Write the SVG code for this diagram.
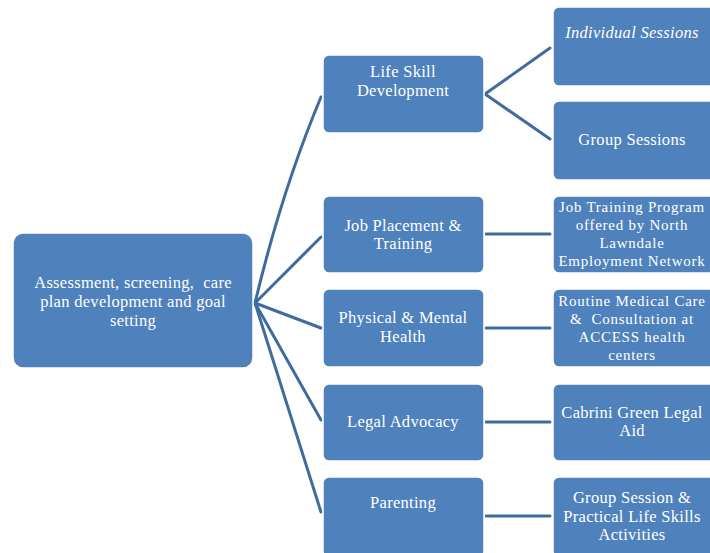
<svg xmlns="http://www.w3.org/2000/svg" width="710" height="553" viewBox="0 0 710 553">
<style>
.box{fill:#4F81BD;stroke:#FFFFFF;stroke-width:1.5}
.t{font-family:"Liberation Serif",serif;font-size:16.5px;letter-spacing:0.3px;fill:#FFFFFF;text-anchor:middle;white-space:pre}
.s{font-size:15px;letter-spacing:0.75px}
.c{fill:none;stroke:#3E6C9E;stroke-width:3;stroke-linecap:round}
</style>
<rect width="710" height="553" fill="#FFFFFF"/>
<g id="connectors">
<path class="c" d="M255,303 Q282,190 321,97"/>
<line class="c" x1="255" y1="303" x2="321" y2="237"/>
<line class="c" x1="255" y1="303" x2="321" y2="328"/>
<line class="c" x1="255" y1="303" x2="321" y2="420"/>
<line class="c" x1="255" y1="303" x2="321" y2="512"/>
<line class="c" x1="485" y1="94" x2="550" y2="48"/>
<line class="c" x1="485" y1="94" x2="550" y2="139"/>
<line class="c" x1="486" y1="234" x2="550" y2="234"/>
<line class="c" x1="486" y1="328" x2="550" y2="328"/>
<line class="c" x1="486" y1="422" x2="550" y2="422"/>
<line class="c" x1="486" y1="516" x2="550" y2="516"/>
</g>
<g id="root">
<rect class="box" x="13" y="233" width="240" height="135" rx="10"/>
<text class="t"><tspan x="133" y="288">Assessment, screening,  care</tspan><tspan x="133" y="307">plan development and goal</tspan><tspan x="133" y="326">setting</tspan></text>
</g>
<g id="life-skill">
<rect class="box" x="323" y="55" width="161" height="78" rx="6"/>
<text class="t"><tspan x="403" y="77">Life Skill</tspan><tspan x="403" y="96">Development</tspan></text>
</g>
<g id="job-placement">
<rect class="box" x="323" y="196" width="161" height="77" rx="6"/>
<text class="t"><tspan x="403" y="231">Job Placement &amp;</tspan><tspan x="403" y="249">Training</tspan></text>
</g>
<g id="physical">
<rect class="box" x="323" y="289" width="161" height="78" rx="6"/>
<text class="t"><tspan x="403" y="323">Physical &amp; Mental</tspan><tspan x="403" y="342">Health</tspan></text>
</g>
<g id="legal">
<rect class="box" x="323" y="384" width="161" height="77" rx="6"/>
<text class="t"><tspan x="403" y="427">Legal Advocacy</tspan></text>
</g>
<g id="parenting">
<rect class="box" x="323" y="477" width="161" height="80" rx="6"/>
<text class="t"><tspan x="403" y="508">Parenting</tspan></text>
</g>
<g id="individual">
<rect class="box" x="553" y="7" width="162" height="79" rx="6"/>
<text class="t" font-style="italic"><tspan x="632" y="38">Individual Sessions</tspan></text>
</g>
<g id="group-sessions">
<rect class="box" x="553" y="101" width="162" height="79" rx="6"/>
<text class="t"><tspan x="632" y="145">Group Sessions</tspan></text>
</g>
<g id="job-training">
<rect class="box" x="553" y="196" width="162" height="77" rx="6"/>
<text class="t s"><tspan x="632" y="212">Job Training Program</tspan><tspan x="632" y="230">offered by North</tspan><tspan x="632" y="248">Lawndale</tspan><tspan x="632" y="266">Employment Network</tspan></text>
</g>
<g id="routine">
<rect class="box" x="553" y="289" width="162" height="78" rx="6"/>
<text class="t s"><tspan x="632" y="306">Routine Medical Care</tspan><tspan x="632" y="324">&amp;  Consultation at</tspan><tspan x="632" y="342">ACCESS health</tspan><tspan x="632" y="360">centers</tspan></text>
</g>
<g id="cabrini">
<rect class="box" x="553" y="384" width="162" height="77" rx="6"/>
<text class="t"><tspan x="632" y="418">Cabrini Green Legal</tspan><tspan x="632" y="436">Aid</tspan></text>
</g>
<g id="group-session">
<rect class="box" x="553" y="477" width="162" height="80" rx="6"/>
<text class="t"><tspan x="632" y="503">Group Session &amp;</tspan><tspan x="632" y="522">Practical Life Skills</tspan><tspan x="632" y="540">Activities</tspan></text>
</g>
</svg>
